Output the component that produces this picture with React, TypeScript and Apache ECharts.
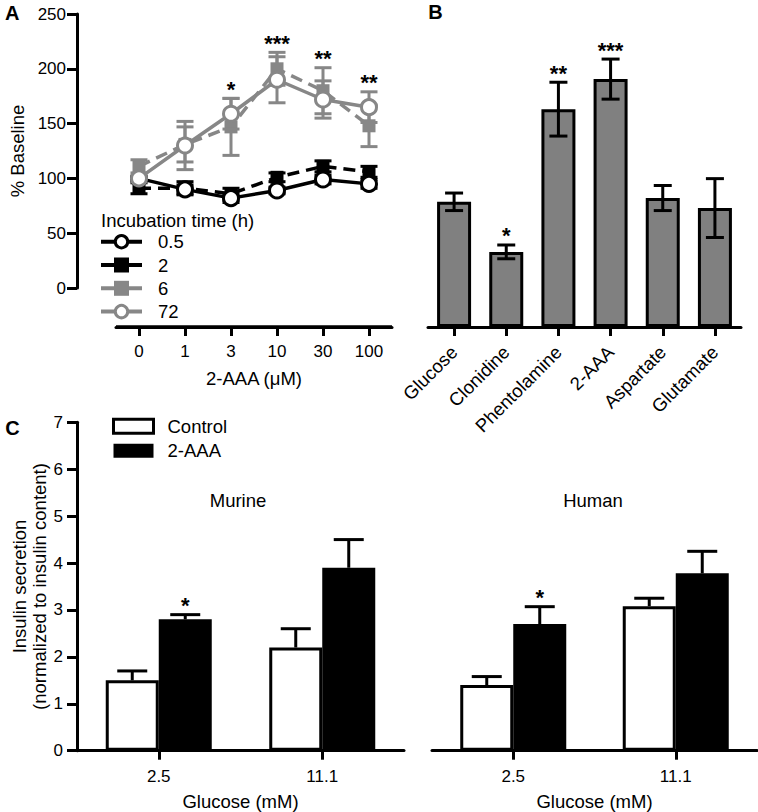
import React, { useEffect, useRef } from 'react';
import * as echarts from 'echarts';

// ---------- Panel A data ----------
const doseLabels = ['0', '1', '3', '10', '30', '100'];
const mean05 = [100, 90, 82, 89, 99, 95];
const err05 = [0, 4, 4, 3, 4, 4];
const mean2 = [91, 91, 86, 101, 111, 106];
const err2 = [5, 6, 5, 4, 5, 5];
const mean6 = [111, 131, 147, 200, 180, 148];
const err6 = [6, 16, 26, 15, 21, 19];
const mean72 = [100, 130, 159, 190, 172, 165];
const err72 = [0, 22, 14, 21, 17, 14];
const starsA = ['', '', '*', '***', '**', '**'];
const legendA = ['0.5', '2', '6', '72'];

// ---------- Panel B data ----------
const agents = ['Glucose', 'Clonidine', 'Phentolamine', '2-AAA', 'Aspartate', 'Glutamate'];
const agentMean = [100, 60, 174, 198, 103, 95];
const agentErr = [7, 5.5, 21.5, 16, 10, 23.5];
const starsB = ['', '*', '**', '***', '', ''];

// ---------- Panel C data ----------
const glucoseLabels = ['2.5', '11.1'];
const murineControl = [1.5, 2.2];
const murineControlErr = [0.2, 0.4];
const murineAAA = [2.8, 3.9];
const murineAAAErr = [0.1, 0.6];
const humanControl = [1.4, 3.08];
const humanControlErr = [0.18, 0.17];
const humanAAA = [2.7, 3.78];
const humanAAAErr = [0.37, 0.47];
const starsCMurine = ['*', ''];
const starsCHuman = ['*', ''];

const FONT = '"Liberation Sans", Arial, Helvetica, sans-serif';
const GRAY = '#878787';
const BAR_GRAY = '#808080';
const BLACK = '#000';

// legend look for panel A (matches series styles below)
const legendAColor = [BLACK, BLACK, GRAY, GRAY];
const legendAOpen = [true, false, false, true];

// Panel A layout: visible y axis spans 0..250 over 274px; the dose axis sits 39px lower
const A_LEFT = 116;
const A_WIDTH = 276;
const A_TOP = 14;
const A_YAXIS_H = 274;
const A_DROP = 39;
const A_YMAX = 250;
const A_YMIN_DATA = -A_YMAX * A_DROP / A_YAXIS_H;

function errRender(color: string, capW: number, upOnly: boolean, xShift: number) {
  return (params: any, api: any) => {
    const i = api.value(0);
    const v = api.value(1);
    const e = api.value(2);
    if (!(e > 0)) return { type: 'group', children: [] };
    const pTop = api.coord([i, v + e]);
    const pBot = api.coord([i, upOnly ? v : v - e]);
    const x = pTop[0] + xShift;
    const st = { stroke: color, lineWidth: 3 };
    const children: any[] = [
      { type: 'line', shape: { x1: x, y1: pTop[1], x2: x, y2: pBot[1] }, style: st },
      { type: 'line', shape: { x1: x - capW / 2, y1: pTop[1], x2: x + capW / 2, y2: pTop[1] }, style: st },
    ];
    if (!upOnly) {
      children.push({ type: 'line', shape: { x1: x - capW / 2, y1: pBot[1], x2: x + capW / 2, y2: pBot[1] }, style: st });
    }
    return { type: 'group', children };
  };
}

function starRender(stars: string[], xShift: number) {
  return (params: any, api: any) => {
    const p = api.coord([api.value(0), api.value(1)]);
    return {
      type: 'text',
      x: p[0] + xShift,
      y: p[1] - 9,
      style: {
        text: stars[params.dataIndex],
        fontSize: 22,
        fontWeight: 'bold',
        fontFamily: FONT,
        fill: BLACK,
        align: 'center',
        verticalAlign: 'middle',
      },
    };
  };
}

// A-panel dose-axis baseline drawn by a custom series in the dose grid (spans the category band edges)
function baselineRender(params: any, api: any) {
  const size = api.size([1, 0]);
  const p0 = api.coord([0, A_YMIN_DATA]);
  const p1 = api.coord([doseLabels.length - 1, A_YMIN_DATA]);
  const half = size[0] / 2;
  return {
    type: 'rect',
    shape: { x: p0[0] - half, y: p0[1] - 1.5, width: p1[0] - p0[0] + 2 * half, height: 3 },
    style: { fill: BLACK },
  };
}

const errData = (m: number[], e: number[]) => m.map((v, i) => [i, v, e[i]]);

export default function App() {
  const ref = useRef<HTMLDivElement>(null);
  useEffect(() => {
    if (!ref.current) return;
    const chart = echarts.init(ref.current, null, { renderer: 'svg' });

    const mkAxisLine = () => ({ show: true, onZero: false, lineStyle: { color: BLACK, width: 3 } });
    const mkTick = (len: number) => ({ show: true, alignWithLabel: true, length: len, lineStyle: { color: BLACK, width: 3 } });
    const labelBase = { color: BLACK, fontFamily: FONT, fontSize: 17 };
    const nameStyle = { color: BLACK, fontFamily: FONT, fontSize: 18.5 };

    const lineSeries = (name: string, data: number[], color: string, symbol: string, filled: boolean, dashed: boolean, z: number) => ({
      type: 'line',
      name,
      xAxisIndex: 0,
      yAxisIndex: 0,
      data,
      z,
      clip: false,
      symbol,
      symbolSize: symbol === 'circle' ? 15 : 13,
      lineStyle: { color, width: 3.5, type: dashed ? [12, 7] : 'solid' },
      itemStyle: { color: filled ? color : '#fff', borderColor: color, borderWidth: filled ? 0 : 3 },
      emphasis: { disabled: true },
      silent: true,
    });

    const errSeries = (name: string, xi: number, data: any[], color: string, capW: number, upOnly: boolean, xShift: number, z: number) => ({
      type: 'custom',
      name,
      xAxisIndex: xi,
      yAxisIndex: xi,
      data,
      z,
      encode: { x: 0, y: 1 },
      renderItem: errRender(color, capW, upOnly, xShift),
      silent: true,
    });

    const starSeries = (name: string, xi: number, data: any[], stars: string[], xShift: number) => ({
      type: 'custom',
      name,
      xAxisIndex: xi,
      yAxisIndex: xi,
      data,
      z: 10,
      encode: { x: 0, y: 1 },
      renderItem: starRender(stars, xShift),
      silent: true,
    });

    const starAnchorA = doseLabels.map((_, i) => [i, Math.max(mean6[i] + err6[i], mean72[i] + err72[i])]);
    const starAnchorB = agentMean.map((v, i) => [i, v + agentErr[i]]);
    const starAnchorCM = murineAAA.map((v, i) => [i, v + murineAAAErr[i]]);
    const starAnchorCH = humanAAA.map((v, i) => [i, v + humanAAAErr[i]]);

    const BW = 53;
    const A_BOTTOM = A_TOP + A_YAXIS_H + A_DROP;

    // hand-drawn legend for panel A (line + marker + label)
    const legendAGraphics: any[] = [];
    legendA.forEach((name, i) => {
      const y = 241.7 + 23.3 * i;
      const c = legendAColor[i];
      legendAGraphics.push({ type: 'line', shape: { x1: 101, y1: y, x2: 142, y2: y }, style: { stroke: c, lineWidth: 4 } });
      if (legendAOpen[i]) {
        legendAGraphics.push({ type: 'circle', shape: { cx: 121.5, cy: y, r: 6.2 }, style: { fill: '#fff', stroke: c, lineWidth: 3 } });
      } else {
        legendAGraphics.push({ type: 'rect', shape: { x: 114, y: y - 7.5, width: 15, height: 15 }, style: { fill: c } });
      }
      legendAGraphics.push({ type: 'text', x: 158, y, style: { text: name, fontSize: 18.5, fontFamily: FONT, fill: BLACK, align: 'left', verticalAlign: 'middle' } });
    });

    const option: any = {
      animation: false,
      textStyle: { fontFamily: FONT },
      grid: [
        // A: data area reaching down to the detached dose axis
        { left: A_LEFT, top: A_TOP, width: A_WIDTH, height: A_YAXIS_H + A_DROP, outerBoundsMode: 'none' },
        { left: 428, top: 14, width: 313, height: 313, outerBoundsMode: 'none' },
        { left: 77, top: 422.3, width: 327, height: 328.4, outerBoundsMode: 'none' },
        { left: 432, top: 422.3, width: 325, height: 328.4, outerBoundsMode: 'none' },
        // A: holder of the visible % Baseline axis (0..250)
        { left: 77, top: A_TOP, width: 39, height: A_YAXIS_H, outerBoundsMode: 'none' },
      ],
      xAxis: [
        {
          type: 'category', gridIndex: 0, data: doseLabels, z: 100,
          axisLine: mkAxisLine(), axisTick: mkTick(9),
          axisLabel: { ...labelBase, margin: 16 },
          name: '2-AAA (\u03bcM)', nameLocation: 'middle', nameGap: 42, nameTextStyle: nameStyle,
        },
        {
          type: 'category', gridIndex: 1, data: agents,
          axisLine: mkAxisLine(), axisTick: mkTick(9),
          axisLabel: { ...labelBase, fontSize: 18.5, rotate: 45, margin: 22, interval: 0 },
        },
        {
          type: 'category', gridIndex: 2, data: glucoseLabels,
          axisLine: mkAxisLine(), axisTick: mkTick(9),
          axisLabel: { ...labelBase, margin: 17 },
          name: 'Glucose (mM)', nameLocation: 'middle', nameGap: 41, nameTextStyle: nameStyle,
        },
        {
          type: 'category', gridIndex: 3, data: glucoseLabels,
          axisLine: mkAxisLine(), axisTick: mkTick(9),
          axisLabel: { ...labelBase, margin: 17 },
          name: 'Glucose (mM)', nameLocation: 'middle', nameGap: 41, nameTextStyle: nameStyle,
        },
        { type: 'value', gridIndex: 4, min: 0, max: 1, show: false, splitLine: { show: false } },
      ],
      yAxis: [
        { type: 'value', gridIndex: 0, min: A_YMIN_DATA, max: A_YMAX, show: false, splitLine: { show: false } },
        { type: 'value', gridIndex: 1, min: 0, max: 250, show: false, splitLine: { show: false } },
        {
          type: 'value', gridIndex: 2, min: 0, max: 7, interval: 1,
          axisLine: mkAxisLine(), axisTick: mkTick(10),
          splitLine: { show: false },
          axisLabel: { ...labelBase, margin: 14 },
          name: 'Insulin secretion\n(normalized to insulin content)', nameLocation: 'middle', nameGap: 25,
          nameTextStyle: { ...nameStyle, lineHeight: 20 },
        },
        { type: 'value', gridIndex: 3, min: 0, max: 7, show: false, splitLine: { show: false } },
        {
          type: 'value', gridIndex: 4, min: 0, max: A_YMAX, interval: 50, position: 'left',
          axisLine: mkAxisLine(), axisTick: mkTick(10),
          splitLine: { show: false },
          axisLabel: { ...labelBase, margin: 11 },
          name: '% Baseline', nameLocation: 'middle', nameGap: 50, nameTextStyle: nameStyle,
        },
      ],
      legend: [
        {
          left: 112, top: 416.75, orient: 'vertical', padding: 0,
          itemWidth: 40, itemHeight: 14, itemGap: 5.5, icon: 'rect',
          selectedMode: false,
          data: [
            { name: 'Control', itemStyle: { color: '#fff', borderColor: BLACK, borderWidth: 3 } },
            { name: '2-AAA', itemStyle: { color: BLACK, borderColor: BLACK, borderWidth: 0 } },
          ],
          textStyle: { color: BLACK, fontFamily: FONT, fontSize: 18.5, padding: [0, 0, 0, 9] },
        },
      ],
      graphic: [
        { type: 'text', x: 12.3, y: 13.3, style: { text: 'A', fontSize: 20, fontWeight: 'bold', fontFamily: FONT, fill: BLACK, align: 'center', verticalAlign: 'middle' } },
        { type: 'text', x: 435.5, y: 11.7, style: { text: 'B', fontSize: 20, fontWeight: 'bold', fontFamily: FONT, fill: BLACK, align: 'center', verticalAlign: 'middle' } },
        { type: 'text', x: 12.5, y: 427.5, style: { text: 'C', fontSize: 20, fontWeight: 'bold', fontFamily: FONT, fill: BLACK, align: 'center', verticalAlign: 'middle' } },
        { type: 'text', x: 101, y: 220, style: { text: 'Incubation time (h)', fontSize: 18.5, fontFamily: FONT, fill: BLACK, align: 'left', verticalAlign: 'middle' } },
        { type: 'text', x: 238, y: 500.7, style: { text: 'Murine', fontSize: 18.5, fontFamily: FONT, fill: BLACK, align: 'center', verticalAlign: 'middle' } },
        { type: 'text', x: 593, y: 500.7, style: { text: 'Human', fontSize: 18.5, fontFamily: FONT, fill: BLACK, align: 'center', verticalAlign: 'middle' } },
        { type: 'polyline', z: 60, shape: { points: [[A_LEFT, A_BOTTOM], [A_LEFT + A_WIDTH, A_BOTTOM]] }, style: { stroke: BLACK, lineWidth: 3, fill: 'none' } },
        ...legendAGraphics,
      ],
      series: [
        // Panel A dose-axis baseline
        {
          type: 'custom', name: 'doseBaseline', xAxisIndex: 0, yAxisIndex: 0, data: [[0, A_YMIN_DATA]],
          encode: { x: 0, y: 1 }, renderItem: baselineRender, silent: true, z: 20,
        },
        errSeries('e2', 0, errData(mean2, err2), BLACK, 17, false, 0, 2),
        lineSeries('2', mean2, BLACK, 'rect', true, true, 3),
        errSeries('e05', 0, errData(mean05, err05), BLACK, 17, false, 0, 4),
        lineSeries('0.5', mean05, BLACK, 'circle', false, false, 5),
        errSeries('e6', 0, errData(mean6, err6), GRAY, 17, false, 0, 6),
        lineSeries('6', mean6, GRAY, 'rect', true, true, 7),
        errSeries('e72', 0, errData(mean72, err72), GRAY, 17, false, 0, 8),
        lineSeries('72', mean72, GRAY, 'circle', false, false, 9),
        starSeries('sA', 0, starAnchorA, starsA, 0),
        // Panel B
        {
          type: 'bar', name: 'agents', xAxisIndex: 1, yAxisIndex: 1, data: agentMean, barWidth: 34,
          itemStyle: { color: BAR_GRAY, borderColor: BLACK, borderWidth: 3 }, silent: true, z: 2,
        },
        errSeries('eB', 1, errData(agentMean, agentErr), BLACK, 18, false, 0, 3),
        starSeries('sB', 1, starAnchorB, starsB, 0),
        // Panel C murine
        {
          type: 'bar', name: 'Control', xAxisIndex: 2, yAxisIndex: 2, data: murineControl, barWidth: BW, barGap: '0%',
          itemStyle: { color: '#fff', borderColor: BLACK, borderWidth: 3 }, silent: true, z: 2,
        },
        {
          type: 'bar', name: '2-AAA', xAxisIndex: 2, yAxisIndex: 2, data: murineAAA, barWidth: BW, barGap: '0%',
          itemStyle: { color: BLACK, borderColor: BLACK, borderWidth: 3 }, silent: true, z: 2,
        },
        errSeries('eCMc', 2, errData(murineControl, murineControlErr), BLACK, 30, true, -BW / 2, 3),
        errSeries('eCMa', 2, errData(murineAAA, murineAAAErr), BLACK, 30, true, BW / 2, 3),
        starSeries('sCM', 2, starAnchorCM, starsCMurine, BW / 2),
        // Panel C human
        {
          type: 'bar', name: 'Control', xAxisIndex: 3, yAxisIndex: 3, data: humanControl, barWidth: BW, barGap: '0%',
          itemStyle: { color: '#fff', borderColor: BLACK, borderWidth: 3 }, silent: true, z: 2,
        },
        {
          type: 'bar', name: '2-AAA', xAxisIndex: 3, yAxisIndex: 3, data: humanAAA, barWidth: BW, barGap: '0%',
          itemStyle: { color: BLACK, borderColor: BLACK, borderWidth: 3 }, silent: true, z: 2,
        },
        errSeries('eCHc', 3, errData(humanControl, humanControlErr), BLACK, 30, true, -BW / 2, 3),
        errSeries('eCHa', 3, errData(humanAAA, humanAAAErr), BLACK, 30, true, BW / 2, 3),
        starSeries('sCH', 3, starAnchorCH, starsCHuman, BW / 2),
      ],
    };

    chart.setOption(option);
    return () => chart.dispose();
  }, []);

  return (
    <div
      ref={ref}
      style={{ position: 'fixed', left: 0, top: 0, width: 758, height: 812, background: '#fff' }}
    />
  );
}
